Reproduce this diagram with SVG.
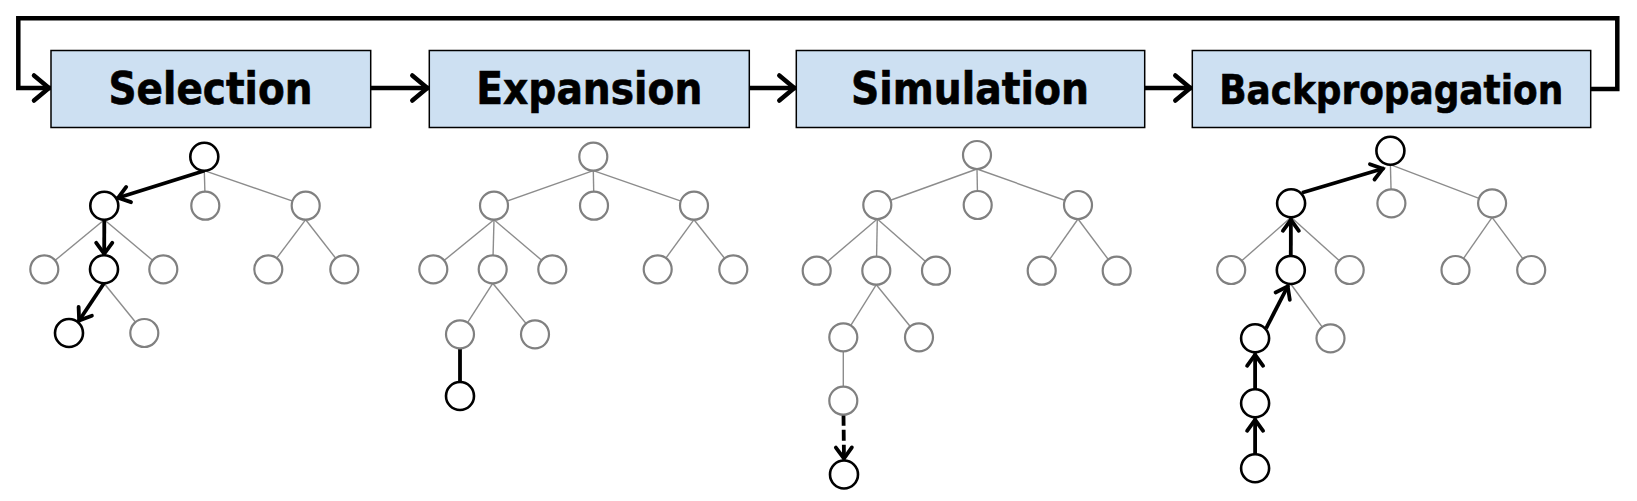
<svg xmlns="http://www.w3.org/2000/svg" width="1637" height="501" viewBox="0 0 1637 501">
<style>
.box{fill:#CDE0F2;stroke:#000;stroke-width:1.5}
.lbl{font-family:"DejaVu Sans Condensed","DejaVu Sans",sans-serif;font-weight:bold;font-stretch:condensed;fill:#000;text-anchor:middle;stroke:#000;stroke-width:0.6}
.g{fill:#fff;stroke:#808080;stroke-width:2.2}
.b{fill:#fff;stroke:#000;stroke-width:2.6}
.ge{stroke:#8c8c8c;stroke-width:1.4;fill:none}
.be{stroke:#000;stroke-width:3.8;fill:none}
.flow{stroke:#000;stroke-width:4.5;fill:none}
</style>
<defs>
<marker id="bigHead" markerUnits="userSpaceOnUse" viewBox="-25 -18 30 36" markerWidth="30" markerHeight="36" refX="0" refY="0" orient="auto">
<path d="M-17,-12.5 L-2,0 L-17,12.5" fill="none" stroke="#000" stroke-width="4.5" stroke-linecap="round" stroke-linejoin="miter"/>
</marker>
<marker id="smallHead" markerUnits="userSpaceOnUse" viewBox="-20 -12 24 24" markerWidth="24" markerHeight="24" refX="0" refY="0" orient="auto">
<path d="M-12.5,-8 L-1.5,0 L-12.5,8" fill="none" stroke="#000" stroke-width="3.8" stroke-linecap="round" stroke-linejoin="miter"/>
</marker>
</defs>
<rect width="1637" height="501" fill="#fff"/>

<g id="connectors">
<path class="flow" d="M1590.7,89 H1617.3 V18.3 H18.3 V88 H51" marker-end="url(#bigHead)"/>
<line class="flow" x1="370.7" y1="88" x2="429.3" y2="88" marker-end="url(#bigHead)"/>
<line class="flow" x1="749.3" y1="88" x2="796.3" y2="88" marker-end="url(#bigHead)"/>
<line class="flow" x1="1144.7" y1="88" x2="1192.3" y2="88" marker-end="url(#bigHead)"/>

<g id="t1-edges">
<line class="ge" x1="204.3" y1="170.7" x2="205.3" y2="205.7"/>
<line class="ge" x1="204.3" y1="170.7" x2="305.7" y2="205.7"/>
<line class="ge" x1="104.3" y1="219.7" x2="44.3" y2="269.3"/>
<line class="ge" x1="104.3" y1="219.7" x2="163.3" y2="269.3"/>
<line class="ge" x1="305.7" y1="219.7" x2="268.3" y2="269.3"/>
<line class="ge" x1="305.7" y1="219.7" x2="344.3" y2="269.3"/>
<line class="ge" x1="104" y1="283.3" x2="144.3" y2="333"/>
<line class="be" x1="204.3" y1="170.7" x2="116.7" y2="198.3" marker-end="url(#smallHead)"/>
<line class="be" x1="104.3" y1="219.7" x2="104.2" y2="255.3" marker-end="url(#smallHead)"/>
<line class="be" x1="104" y1="283.3" x2="78.3" y2="321.7" marker-end="url(#smallHead)"/>
</g>

<g id="t2-edges">
<line class="ge" x1="593.3" y1="170.7" x2="494" y2="205.7"/>
<line class="ge" x1="593.3" y1="170.7" x2="594" y2="205.7"/>
<line class="ge" x1="593.3" y1="170.7" x2="694" y2="205.7"/>
<line class="ge" x1="494" y1="219.7" x2="433.3" y2="269.3"/>
<line class="ge" x1="494" y1="219.7" x2="492.7" y2="269.3"/>
<line class="ge" x1="494" y1="219.7" x2="552.3" y2="269.3"/>
<line class="ge" x1="694" y1="219.7" x2="657.7" y2="269.3"/>
<line class="ge" x1="694" y1="219.7" x2="733.3" y2="269.3"/>
<line class="ge" x1="492.7" y1="283.3" x2="460" y2="334.3"/>
<line class="ge" x1="492.7" y1="283.3" x2="535" y2="334.3"/>
<line class="be" x1="460" y1="348.3" x2="460" y2="382"/>
</g>

<g id="t3-edges">
<line class="ge" x1="977" y1="169" x2="877.3" y2="205"/>
<line class="ge" x1="977" y1="169" x2="977.7" y2="205"/>
<line class="ge" x1="977" y1="169" x2="1078" y2="205"/>
<line class="ge" x1="877.3" y1="219" x2="816.7" y2="270.7"/>
<line class="ge" x1="877.3" y1="219" x2="876.3" y2="270.7"/>
<line class="ge" x1="877.3" y1="219" x2="936" y2="270.7"/>
<line class="ge" x1="1078" y1="219" x2="1041.7" y2="270.7"/>
<line class="ge" x1="1078" y1="219" x2="1116.7" y2="270.7"/>
<line class="ge" x1="876.3" y1="284.7" x2="843.3" y2="337.3"/>
<line class="ge" x1="876.3" y1="284.7" x2="919" y2="337.3"/>
<line class="ge" x1="843.3" y1="351.3" x2="843.3" y2="400.7"/>
<line class="be" x1="843.5" y1="414.7" x2="844" y2="460" stroke-dasharray="11 4" marker-end="url(#smallHead)"/>
</g>

<g id="t4-edges">
<line class="ge" x1="1390.4" y1="164.7" x2="1391.4" y2="203.3"/>
<line class="ge" x1="1390.4" y1="164.7" x2="1492.1" y2="203.3"/>
<line class="ge" x1="1291.1" y1="217.3" x2="1231.2" y2="270"/>
<line class="ge" x1="1291.1" y1="217.3" x2="1349.7" y2="270"/>
<line class="ge" x1="1492.1" y1="217.3" x2="1455.5" y2="270"/>
<line class="ge" x1="1492.1" y1="217.3" x2="1531.2" y2="270"/>
<line class="ge" x1="1290.8" y1="284" x2="1330.5" y2="338.3"/>
<line class="be" x1="1302" y1="192.7" x2="1384.2" y2="168.3" marker-end="url(#smallHead)"/>
<line class="be" x1="1290.8" y1="256" x2="1290.9" y2="218.3" marker-end="url(#smallHead)"/>
<line class="be" x1="1266.1" y1="328.3" x2="1288.4" y2="285" marker-end="url(#smallHead)"/>
<line class="be" x1="1255.1" y1="389.3" x2="1255.1" y2="353.3" marker-end="url(#smallHead)"/>
<line class="be" x1="1255.1" y1="454.3" x2="1255.1" y2="418.3" marker-end="url(#smallHead)"/>
</g>
</g>

<g id="selection"><rect class="box" x="51" y="50.5" width="319.7" height="77"/><text class="lbl" x="210.5" y="104" font-size="45" textLength="204" lengthAdjust="spacingAndGlyphs">Selection</text></g>
<g id="expansion"><rect class="box" x="429.3" y="50.5" width="320" height="77"/><text class="lbl" x="589.3" y="104" font-size="45" textLength="226" lengthAdjust="spacingAndGlyphs">Expansion</text></g>
<g id="simulation"><rect class="box" x="796.3" y="50.5" width="348.4" height="77"/><text class="lbl" x="970" y="104" font-size="45" textLength="238" lengthAdjust="spacingAndGlyphs">Simulation</text></g>
<g id="backpropagation"><rect class="box" x="1192.3" y="50.5" width="398.4" height="77"/><text class="lbl" x="1391.2" y="104" font-size="41" textLength="344" lengthAdjust="spacingAndGlyphs">Backpropagation</text></g>

<g id="t1-root"><circle class="b" cx="204.3" cy="156.7" r="14"/></g>
<g id="t1-a"><circle class="b" cx="104.3" cy="205.7" r="14"/></g>
<g id="t1-b"><circle class="g" cx="205.3" cy="205.7" r="14"/></g>
<g id="t1-c"><circle class="g" cx="305.7" cy="205.7" r="14"/></g>
<g id="t1-a1"><circle class="g" cx="44.3" cy="269.3" r="14"/></g>
<g id="t1-a2"><circle class="b" cx="104" cy="269.3" r="14"/></g>
<g id="t1-a3"><circle class="g" cx="163.3" cy="269.3" r="14"/></g>
<g id="t1-c1"><circle class="g" cx="268.3" cy="269.3" r="14"/></g>
<g id="t1-c2"><circle class="g" cx="344.3" cy="269.3" r="14"/></g>
<g id="t1-a2a"><circle class="b" cx="69" cy="333" r="14"/></g>
<g id="t1-a2b"><circle class="g" cx="144.3" cy="333" r="14"/></g>

<g id="t2-root"><circle class="g" cx="593.3" cy="156.7" r="14"/></g>
<g id="t2-a"><circle class="g" cx="494" cy="205.7" r="14"/></g>
<g id="t2-b"><circle class="g" cx="594" cy="205.7" r="14"/></g>
<g id="t2-c"><circle class="g" cx="694" cy="205.7" r="14"/></g>
<g id="t2-a1"><circle class="g" cx="433.3" cy="269.3" r="14"/></g>
<g id="t2-a2"><circle class="g" cx="492.7" cy="269.3" r="14"/></g>
<g id="t2-a3"><circle class="g" cx="552.3" cy="269.3" r="14"/></g>
<g id="t2-c1"><circle class="g" cx="657.7" cy="269.3" r="14"/></g>
<g id="t2-c2"><circle class="g" cx="733.3" cy="269.3" r="14"/></g>
<g id="t2-a2a"><circle class="g" cx="460" cy="334.3" r="14"/></g>
<g id="t2-a2b"><circle class="g" cx="535" cy="334.3" r="14"/></g>
<g id="t2-new"><circle class="b" cx="460" cy="396" r="14"/></g>

<g id="t3-root"><circle class="g" cx="977" cy="155" r="14"/></g>
<g id="t3-a"><circle class="g" cx="877.3" cy="205" r="14"/></g>
<g id="t3-b"><circle class="g" cx="977.7" cy="205" r="14"/></g>
<g id="t3-c"><circle class="g" cx="1078" cy="205" r="14"/></g>
<g id="t3-a1"><circle class="g" cx="816.7" cy="270.7" r="14"/></g>
<g id="t3-a2"><circle class="g" cx="876.3" cy="270.7" r="14"/></g>
<g id="t3-a3"><circle class="g" cx="936" cy="270.7" r="14"/></g>
<g id="t3-c1"><circle class="g" cx="1041.7" cy="270.7" r="14"/></g>
<g id="t3-c2"><circle class="g" cx="1116.7" cy="270.7" r="14"/></g>
<g id="t3-a2a"><circle class="g" cx="843.3" cy="337.3" r="14"/></g>
<g id="t3-a2b"><circle class="g" cx="919" cy="337.3" r="14"/></g>
<g id="t3-new"><circle class="g" cx="843.3" cy="400.7" r="14"/></g>
<g id="t3-end"><circle class="b" cx="844" cy="474.5" r="14"/></g>

<g id="t4-root"><circle class="b" cx="1390.4" cy="150.7" r="14"/></g>
<g id="t4-a"><circle class="b" cx="1291.1" cy="203.3" r="14"/></g>
<g id="t4-b"><circle class="g" cx="1391.4" cy="203.3" r="14"/></g>
<g id="t4-c"><circle class="g" cx="1492.1" cy="203.3" r="14"/></g>
<g id="t4-a1"><circle class="g" cx="1231.2" cy="270" r="14"/></g>
<g id="t4-a2"><circle class="b" cx="1290.8" cy="270" r="14"/></g>
<g id="t4-a3"><circle class="g" cx="1349.7" cy="270" r="14"/></g>
<g id="t4-c1"><circle class="g" cx="1455.5" cy="270" r="14"/></g>
<g id="t4-c2"><circle class="g" cx="1531.2" cy="270" r="14"/></g>
<g id="t4-a2a"><circle class="b" cx="1255.1" cy="338.3" r="14"/></g>
<g id="t4-a2b"><circle class="g" cx="1330.5" cy="338.3" r="14"/></g>
<g id="t4-new"><circle class="b" cx="1255.1" cy="403.3" r="14"/></g>
<g id="t4-end"><circle class="b" cx="1255.1" cy="468.3" r="14"/></g>
</svg>
